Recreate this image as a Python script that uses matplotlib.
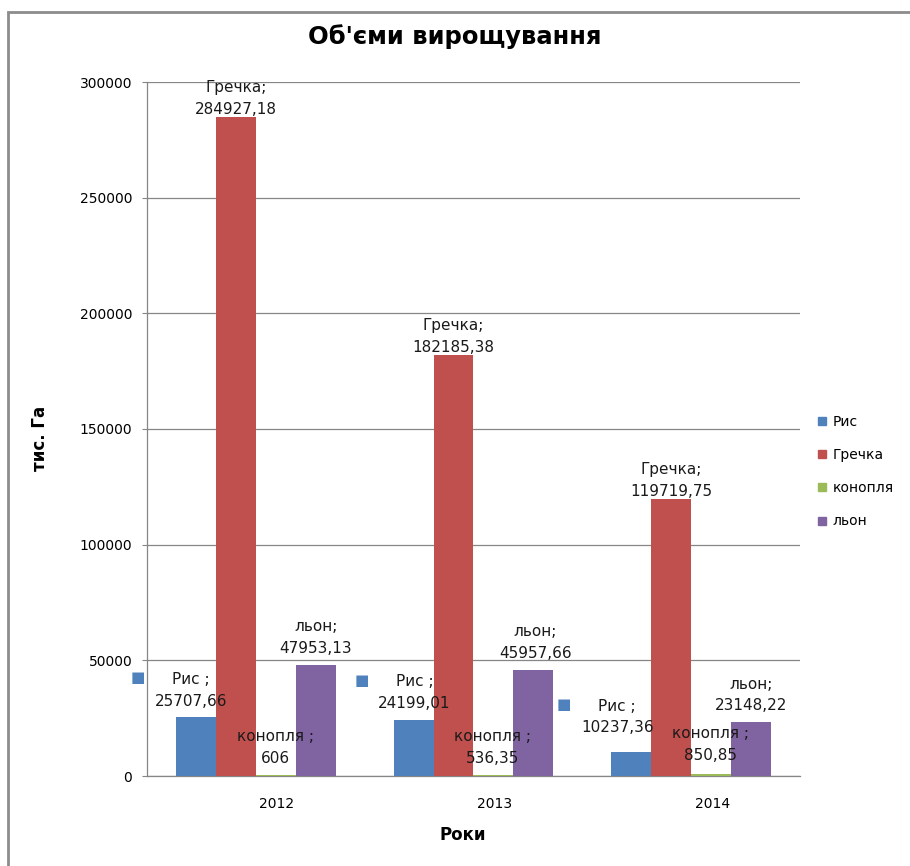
import numpy as np
import matplotlib
matplotlib.use("Agg")
import matplotlib.pyplot as plt
from matplotlib.patches import Rectangle
from matplotlib.lines import Line2D

plt.rcParams['font.family'] = ['DejaVu Sans']

# дані
years = ['2012', '2013', '2014']
series = ['Рис', 'Гречка', 'конопля', 'льон']
label_names = ['Рис ;', 'Гречка;', 'конопля ;', 'льон;']
ris = [25707.66, 24199.01, 10237.36]
grechka = [284927.18, 182185.38, 119719.75]
konoplia = [606, 536.35, 850.85]
lon = [47953.13, 45957.66, 23148.22]
value_text = [
    ['25707,66', '24199,01', '10237,36'],
    ['284927,18', '182185,38', '119719,75'],
    ['606', '536,35', '850,85'],
    ['47953,13', '45957,66', '23148,22'],
]
yticks = [0, 50000, 100000, 150000, 200000, 250000, 300000]

colors = ['#4F81BD', '#C0504D', '#9BBB59', '#8064A2']
grid_col = '#868686'

# зсуви підписів (в пікселях)
label_dx = [[-5, 1, -14], [0, 0, 0], [0, -1, -1], [0, 2, 0]]
label_dy = [[8, 9, 17], [0, 0, 0], [9, 9, 11], [9, 9, 9]]

fig = plt.figure(figsize=(9.1, 8.66), dpi=100)
ax = fig.add_axes([147 / 910, 1 - 776 / 866, (800 - 147) / 910, (776 - 82) / 866])

# рамка діаграми
fig.patches.append(Rectangle((8 / 910, -0.05), 1.2, 1 - 12 / 866 + 0.05,
                             transform=fig.transFigure, fill=False,
                             edgecolor='#8c8c8c', linewidth=2))

x = np.arange(len(years))
w = 40 / 218
all_vals = [ris, grechka, konoplia, lon]
for i, vals in enumerate(all_vals):
    pos = x + (i - 1.5) * w
    ax.bar(pos, vals, width=w, color=colors[i], zorder=3)
    for j, v in enumerate(vals):
        ax.annotate(label_names[i] + '\n' + value_text[i][j], xy=(pos[j], v),
                    xytext=(label_dx[i][j] * 0.72, label_dy[i][j] * 0.72),
                    textcoords='offset points', ha='center', va='bottom',
                    fontsize=11, color='#1a1a1a', linespacing=1.55, zorder=5)
        if i == 0:
            # ключ легенди біля підпису
            ax.annotate('■', xy=(pos[j], v),
                        xytext=((label_dx[i][j] - 53) * 0.72, (label_dy[i][j] + 31) * 0.72),
                        textcoords='offset points', ha='center', va='center',
                        fontsize=11, color=colors[0], zorder=5)

ax.set_xlim(-0.5, 2.5)
ax.set_ylim(0, 300000)
ax.set_yticks(yticks)
ax.set_yticklabels([str(t) for t in yticks], fontsize=10)
# підписи років трохи зсунуті праворуч, як в Excel
ax.set_xticks(x + 21 / 218)
ax.set_xticklabels(years, fontsize=10)

ax.tick_params(axis='x', length=0, pad=15)
ax.tick_params(axis='y', length=3.6, color=grid_col, pad=7)
ax.yaxis.grid(True, color=grid_col, linewidth=0.9, zorder=0)
for s in ['top', 'right']:
    ax.spines[s].set_visible(False)
ax.spines['left'].set_color(grid_col)
ax.spines['bottom'].set_color(grid_col)
ax.spines['left'].set_linewidth(0.9)
ax.spines['bottom'].set_linewidth(0.9)

fig.text(455 / 910, 1 - 37 / 866, "Об'єми вирощування", ha='center', va='center',
         fontsize=17.5, fontweight='bold')
fig.text(40 / 910, 1 - 438 / 866, 'тис. Га', ha='center', va='center',
         rotation=90, fontsize=12, fontweight='bold')
fig.text(463 / 910, 1 - 835 / 866, 'Роки', ha='center', va='center',
         fontsize=12, fontweight='bold')

handles = [Line2D([], [], marker='s', linestyle='none', markersize=6,
                  markerfacecolor=c, markeredgecolor=c) for c in colors]
fig.legend(handles, series, loc='upper left', bbox_to_anchor=(809 / 910, 1 - 408 / 866),
           frameon=False, fontsize=10, handlelength=0.8, handletextpad=0.4,
           labelspacing=1.38, borderpad=0)

fig.savefig('out.png', dpi=100)
